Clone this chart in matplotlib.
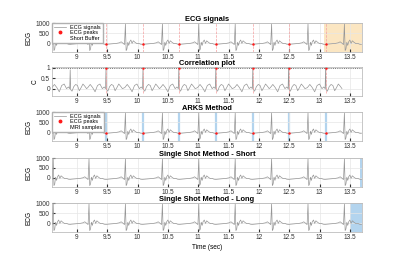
import numpy as np
import matplotlib
matplotlib.use("Agg")
import matplotlib.pyplot as plt
from matplotlib.patches import Patch
from matplotlib.lines import Line2D

plt.rcParams['font.family'] = ['Liberation Sans', 'DejaVu Sans']

# ---- data ----
r_peaks = [8.61, 9.20, 9.80, 10.41, 11.01, 11.61, 12.21, 12.81, 13.41]
# one ECG beat: offset from R peak (sec) and amplitude
beat_dt = [-0.29, -0.22, -0.15, -0.10, -0.07, -0.04, -0.015, 0.0, 0.012, 0.025,
           0.04, 0.055, 0.07, 0.09, 0.11, 0.13, 0.16, 0.19, 0.22, 0.25, 0.28]
beat_val = [-60, -40, -20, 10, 60, -10, -80, 950, -380, -300,
            40, -120, 60, 150, -20, 110, 30, -30, -20, -60, -70]

det_peaks = [9.48, 10.09, 10.68, 11.29, 11.90, 12.49, 13.10]
det_vals = [-50, -50, -45, -45, -50, -50, -50]

# correlation around each detected peak
corr_dt = [-0.30, -0.26, -0.22, -0.18, -0.14, -0.10, -0.06, -0.03, -0.008, 0.0,
           0.008, 0.03, 0.06, 0.09, 0.12, 0.15, 0.18, 0.21, 0.24, 0.27]
corr_val = [0.05, 0.2, 0.05, -0.15, 0.15, 0.22, 0.0, 0.08, 0.0, 1.0,
            -0.05, -0.12, 0.1, 0.2, 0.15, -0.1, 0.05, 0.22, 0.12, 0.0]
corr_peaks = [8.89, 9.48, 10.09, 10.68, 11.29, 11.90, 12.49, 13.10]
corr_heights = [0.9, 1, 1, 1, 1, 1, 1, 1]

short_buffer = (13.08, 13.70)
single_short = (13.67, 13.70)
single_long = (13.51, 13.70)

xlim = (8.59, 13.70)
xticks = [9, 9.5, 10, 10.5, 11, 11.5, 12, 12.5, 13, 13.5]
xticklabels = ['9', '9.5', '10', '10.5', '11', '11.5', '12', '12.5', '13', '13.5']

# build traces from the repeated templates
t_ecg, v_ecg = [], []
for r in r_peaks:
    for d, v in zip(beat_dt, beat_val):
        t_ecg.append(r + d)
        v_ecg.append(v)
order = np.argsort(t_ecg)
t_ecg = np.array(t_ecg)[order]
v_ecg = np.array(v_ecg)[order]

t_c, v_c = [], []
for p, h in zip(corr_peaks, corr_heights):
    for d, v in zip(corr_dt, corr_val):
        t_c.append(p + d)
        v_c.append(v * h if d == 0.0 else v)
order = np.argsort(t_c)
t_c = np.array(t_c)[order]
v_c = np.array(v_c)[order]

gray = '#969696'
red = '#ff1a1a'
blue = '#b3d4ee'
orange = '#fbe6c2'

fig = plt.figure(figsize=(4, 2.6), dpi=100)
bottoms = [0.80, 0.6308, 0.4577, 0.2808, 0.1077]
titles = ['ECG signals', 'Correlation plot', 'ARKS Method',
          'Single Shot Method - Short', 'Single Shot Method - Long']
axes = []
for b, ttl in zip(bottoms, titles):
    ax = fig.add_axes([0.13, b, 0.775, 0.1115])
    ax.set_xlim(xlim)
    ax.set_xticks(xticks)
    ax.set_xticklabels(xticklabels)
    ax.tick_params(labelsize=4.7, length=2, direction='in', colors='#333333', pad=1.5)
    ax.grid(True, color='#e6e6e6', lw=0.5)
    ax.set_axisbelow(True)
    for s in ax.spines.values():
        s.set_color('#b0b0b0')
        s.set_linewidth(0.5)
    ax.set_title(ttl, fontsize=5.4, fontweight='bold', pad=1.2)
    axes.append(ax)

ecg_ylim = (-450, 1000)
for i in [0, 2, 3, 4]:
    axes[i].set_ylim(ecg_ylim)
    axes[i].set_yticks([0, 500, 1000])
    axes[i].set_ylabel('ECG', fontsize=4.7, labelpad=2)

# panel 1
ax = axes[0]
ax.axvspan(*short_buffer, color=orange, lw=0, zorder=0.5)
ax.plot(t_ecg, v_ecg, color=gray, lw=0.5)
for p in det_peaks:
    ax.axvline(p, color='#f4a0a0', ls='--', lw=0.5)
ax.plot(det_peaks, det_vals, 'o', color=red, ms=1.8, mew=0)
handles = [Line2D([], [], color=gray, lw=0.5),
           Line2D([], [], marker='o', color=red, ms=1.8, ls='none'),
           Patch(facecolor='white', edgecolor='white')]
ax.legend(handles, ['ECG signals', 'ECG peaks', 'Short Buffer'], loc='upper left',
          fontsize=4, frameon=True, framealpha=1, edgecolor='#b0b0b0',
          borderpad=0.3, labelspacing=0.12, handlelength=2.2, handletextpad=0.8,
          borderaxespad=0.0, fancybox=False)

# panel 2
ax = axes[1]
ax.set_ylim(-0.35, 1.03)
ax.set_yticks([0, 0.5, 1])
ax.set_yticklabels(['0', '0.5', '1'])
ax.set_ylabel('C', fontsize=4.7, labelpad=2)
ax.axhline(1, color='#555555', ls=':', lw=0.6)
ax.plot(t_c, v_c, color=gray, lw=0.5)
for p in det_peaks:
    ax.plot([p, p], [-0.2, 1], color='#f4a0a0', ls='--', lw=0.5)
ax.plot(det_peaks, [1] * len(det_peaks), 'o', color=red, ms=1.8, mew=0)

# panel 3
ax = axes[2]
for p in det_peaks:
    ax.axvline(p, color=blue, lw=1.6, zorder=0.5)
ax.plot(t_ecg, v_ecg, color=gray, lw=0.5)
ax.plot(det_peaks, det_vals, 'o', color=red, ms=1.8, mew=0)
handles = [Line2D([], [], color=gray, lw=0.5),
           Line2D([], [], marker='o', color=red, ms=1.8, ls='none'),
           Patch(facecolor='white', edgecolor='white')]
ax.legend(handles, ['ECG signals', 'ECG peaks', 'MRI samples'], loc='upper left',
          fontsize=4, frameon=True, framealpha=1, edgecolor='#b0b0b0',
          borderpad=0.3, labelspacing=0.12, handlelength=2.2, handletextpad=0.8,
          borderaxespad=0.0, fancybox=False)

# panel 4
ax = axes[3]
ax.axvspan(*single_short, color=blue, lw=0, zorder=0.5)
ax.plot(t_ecg, v_ecg, color=gray, lw=0.5)

# panel 5
ax = axes[4]
ax.axvspan(*single_long, color=blue, lw=0, zorder=0.5)
ax.plot(t_ecg, v_ecg, color=gray, lw=0.5)
ax.set_xlabel('Time (sec)', fontsize=4.7, labelpad=2)

fig.savefig('out.png', dpi=100)
